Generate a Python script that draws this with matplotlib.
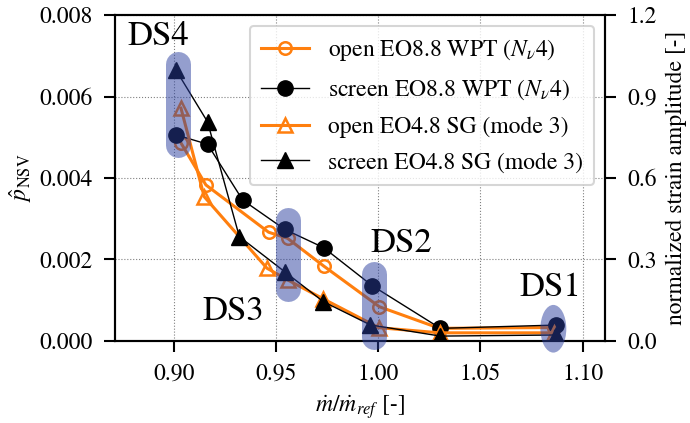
import matplotlib
matplotlib.use("Agg")
import matplotlib.pyplot as plt
from matplotlib.patches import Ellipse

plt.rcParams['font.family'] = 'STIXGeneral'
plt.rcParams['mathtext.fontset'] = 'stix'
plt.rcParams['font.size'] = 17

# mass flow ratio and left-axis p_NSV (WPT, EO8.8)
x_open_wpt = [0.9033, 0.9155, 0.9462, 0.9555, 0.9732, 1.0005, 1.0300, 1.0859]
p_open_wpt = [0.00486, 0.00383, 0.00267, 0.00252, 0.00184, 0.00084, 0.00031, 0.00033]
x_screen_wpt = [0.9008, 0.9163, 0.9335, 0.9541, 0.9732, 0.9969, 1.0304, 1.0868]
p_screen_wpt = [0.00506, 0.00483, 0.00346, 0.00274, 0.00229, 0.00136, 0.00031, 0.00039]

# right-axis normalized strain amplitude (SG, EO4.8)
x_open_sg = [0.9033, 0.9147, 0.9454, 0.9555, 0.9730, 1.0002, 1.0300, 1.0860]
s_open_sg = [0.857, 0.531, 0.268, 0.225, 0.155, 0.049, 0.030, 0.030]
x_screen_sg = [0.9008, 0.9163, 0.9319, 0.9541, 0.9730, 0.9961, 1.0304, 1.0868]
s_screen_sg = [0.998, 0.807, 0.384, 0.255, 0.145, 0.059, 0.018, 0.022]

# design-speed highlights: (x, y_low, y_high), labels
ds_bars = [(0.9020, 0.00480, 0.00680), (0.9559, 0.00128, 0.00296), (0.9979, 0.0001, 0.00165)]
ds1_ell = (1.0857, 0.0003, 0.0127, 0.00117)
ds_labels = ['DS4', 'DS3', 'DS2', 'DS1']
ds_label_x = [0.892, 0.929, 1.0112, 1.0843]
ds_label_y = [0.00746, 0.00072, 0.00238, 0.00130]

orange = '#ff7f0e'
shade = '#2a3f9f'

fig = plt.figure(figsize=(6.9, 4.23), dpi=100)
ax = fig.add_axes([0.1667, 0.1939, 0.8768 - 0.1667, 0.9645 - 0.1939])
ax2 = ax.twinx()

l1, = ax.plot(x_open_wpt, p_open_wpt, '-o', color=orange, lw=2.2, ms=9,
              mfc='none', mew=1.8, label=r'open EO8.8 WPT ($N_{\nu}$4)')
l2, = ax.plot(x_screen_wpt, p_screen_wpt, '-o', color='black', lw=1.0, ms=11,
              label=r'screen EO8.8 WPT ($N_{\nu}$4)')
l3, = ax2.plot(x_open_sg, s_open_sg, '-^', color=orange, lw=2.2, ms=10,
               mfc='none', mew=1.8, label='open EO4.8 SG (mode 3)')
l4, = ax2.plot(x_screen_sg, s_screen_sg, '-^', color='black', lw=1.0, ms=11,
               label='screen EO4.8 SG (mode 3)')

ax.set_xlim(0.871, 1.111)
ax.set_ylim(0, 0.008)
ax2.set_ylim(0, 1.2)
ax.set_yticks([0, 0.002, 0.004, 0.006, 0.008])
ax.set_yticklabels(['0.000', '0.002', '0.004', '0.006', '0.008'])
ax.set_xticks([0.90, 0.95, 1.00, 1.05, 1.10])
ax.set_xticklabels(['0.90', '0.95', '1.00', '1.05', '1.10'])
ax2.set_yticks([0, 0.3, 0.6, 0.9, 1.2])
ax2.set_yticklabels(['0.0', '0.3', '0.6', '0.9', '1.2'])
ax.grid(True, ls=':', color='gray', lw=0.8)

for a in (ax, ax2):
    for s in a.spines.values():
        s.set_linewidth(1.5)
    a.tick_params(direction='out', length=8, width=1.5, pad=8)

ax.set_xlabel(r'$\dot{m}/\dot{m}_{ref}$ [-]', labelpad=6)
ax.set_ylabel(r'$\hat{p}_{\mathrm{NSV}}$')
ax2.set_ylabel('normalized strain amplitude [-]', labelpad=6)

# shaded highlights drawn on top of the markers
to2 = 1.2 / 0.008
for xc, y0, y1 in ds_bars:
    ax2.plot([xc, xc], [y0 * to2, y1 * to2], color=shade, alpha=0.5, lw=18,
             solid_capstyle='round', zorder=5, clip_on=False)
ex, ey, ew, eh = ds1_ell
ax2.add_patch(Ellipse((ex, ey * to2), ew, eh * to2, color=shade, alpha=0.5,
                      lw=0, zorder=5, clip_on=False))

for t, tx, ty in zip(ds_labels, ds_label_x, ds_label_y):
    ax2.text(tx, ty * to2, t, fontsize=25, ha='center', va='center', zorder=6)

leg = ax2.legend(handles=[l1, l2, l3, l4], loc='upper right', fontsize=17,
                 handlelength=2.0, borderpad=0.5, labelspacing=0.6,
                 borderaxespad=0.45)
leg.get_frame().set_linewidth(1.5)

fig.savefig('out.png', dpi=100)
